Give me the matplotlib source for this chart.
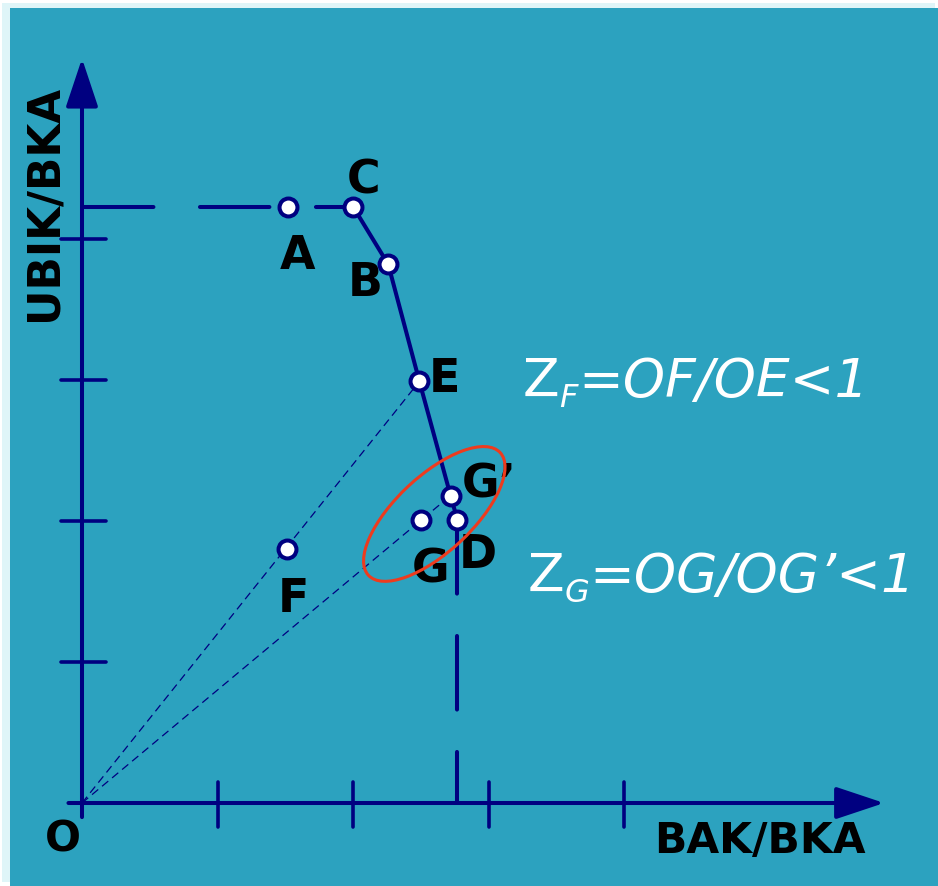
import matplotlib
matplotlib.use('Agg')
import matplotlib.pyplot as plt
from matplotlib.patches import Rectangle, Ellipse
from matplotlib.transforms import ScaledTranslation

plt.rcParams['font.family'] = ['DejaVu Sans']
plt.rcParams['lines.scale_dashes'] = False

# DEA points: BAK/BKA (x) and UBIK/BKA (y)
labels = ['A', 'C', 'B', 'E', 'G\u2019', 'D', 'G', 'F']
bak = [1.52, 2.00, 2.26, 2.49, 2.72, 2.77, 2.50, 1.51]
ubik = [4.23, 4.23, 3.82, 2.99, 2.18, 2.01, 2.01, 1.80]
frontier = ['C', 'B', 'E', 'G\u2019', 'D']
ticks = [1, 2, 3, 4]

# label offsets in pixels (dx, dy, ha)
lab_off = {'A': (10, -61, 'center'), 'C': (11, 14, 'center'),
           'B': (-23, -31, 'center'), 'E': (25, -10, 'center'),
           'G\u2019': (11, -1, 'left'), 'D': (1, -47, 'left'),
           'G': (10, -62, 'center'), 'F': (7, -62, 'center')}

navy = '#000080'
teal = '#2ca2bf'
pts = dict(zip(labels, zip(bak, ubik)))

fig = plt.figure(figsize=(9.38, 8.87), dpi=100)
fig.patch.set_facecolor('white')
fig.patches.append(Rectangle((2/938, 4/887), 933/938, 879/887, transform=fig.transFigure,
                             facecolor='#dff5f8', edgecolor='none', zorder=-10))
fig.patches.append(Rectangle((10/938, 0), 928/938, 878/887, transform=fig.transFigure,
                             facecolor=teal, edgecolor='none', zorder=-9))

ax = fig.add_axes([0, 0, 1, 1])
ax.set_facecolor('none')
ax.set_xlim(-82/135.5, (938-82)/135.5)
ax.set_ylim(-(887-804)/141, 804/141)
ax.axis('off')

# axes with arrows
arr = dict(arrowstyle='-|>,head_length=30,head_width=10', mutation_scale=1,
           lw=2.9, color=navy, shrinkA=0, shrinkB=0)
ax.annotate('', xy=(5.92, 0), xytext=(-0.1, 0), arrowprops=arr)
ax.annotate('', xy=(0, 5.28), xytext=(0, -0.1), arrowprops=arr)

for t in ticks:
    ax.plot([t, t], [-0.17, 0.15], color=navy, lw=2.6, solid_capstyle='round')
    ax.plot([-0.155, 0.177], [t, t], color=navy, lw=2.6, solid_capstyle='round')

# frontier
fx = [pts[k][0] for k in frontier]
fy = [pts[k][1] for k in frontier]
ax.plot(fx, fy, color=navy, lw=2.9, solid_joinstyle='round', zorder=3)
ax.plot([0.015, pts['C'][0]], [pts['C'][1], pts['C'][1]], color=navy, lw=2.9,
        linestyle=(0, (50, 33.5)), dash_capstyle='round', zorder=3)
ax.plot([pts['D'][0], pts['D'][0]], [pts['D'][1], 0], color=navy, lw=2.9,
        linestyle=(0, (53, 30.5)), dash_capstyle='round', zorder=3)

# rays from origin
for k in ['E', 'G\u2019']:
    ax.plot([0, pts[k][0]], [0, pts[k][1]], color=navy, lw=0.9,
            linestyle=(0, (5.8, 3.6)), zorder=2)

# points
ax.plot(bak, ubik, 'o', ms=12.9, mfc='white', mec=navy, mew=2.9, ls='none', zorder=5)

for k in labels:
    dx, dy, ha = lab_off[k]
    ax.annotate(k, xy=pts[k], xytext=(dx, dy), textcoords='offset pixels',
                ha=ha, va='baseline', fontsize=33, fontweight='bold', color='black', zorder=1)

# ellipse around G, G', D
ell = Ellipse((0, 0), 1.80, 0.76, angle=43, fill=False, edgecolor='#ee3b1e', lw=2.2,
              transform=fig.dpi_scale_trans + ScaledTranslation(2.60, 2.05, ax.transData),
              zorder=6)
ax.add_patch(ell)

# axis labels
ax.text(-0.185, 4.26, 'UBIK/BKA', rotation=90, rotation_mode='anchor', ha='center',
        va='baseline', fontsize=31.5, fontweight='bold')
ax.text(5.0, -0.35, 'BAK/BKA', ha='center', va='baseline', fontsize=30.5, fontweight='bold')
ax.text(-0.14, -0.335, 'O', ha='center', va='baseline', fontsize=30.5, fontweight='bold')


def formula(x, y, sub, rest):
    z = ax.text(x, y, 'Z', color='white', fontsize=38.5, ha='left', va='baseline')
    s = ax.annotate(sub, xy=(1, 0), xycoords=z, xytext=(0, -6), textcoords='offset pixels',
                    color='white', fontsize=23, style='italic', ha='left', va='bottom')
    ax.annotate(rest, xy=(1, 0), xycoords=(s, z), color='white', fontsize=38.5,
                style='italic', ha='left', va='bottom')


formula((523-82)/135.5, (804-397)/141, 'F', '=OF/OE<1')
formula((528-82)/135.5, (804-592)/141, 'G', '=OG/OG\u2019<1')

fig.savefig('out.png', dpi=100)
